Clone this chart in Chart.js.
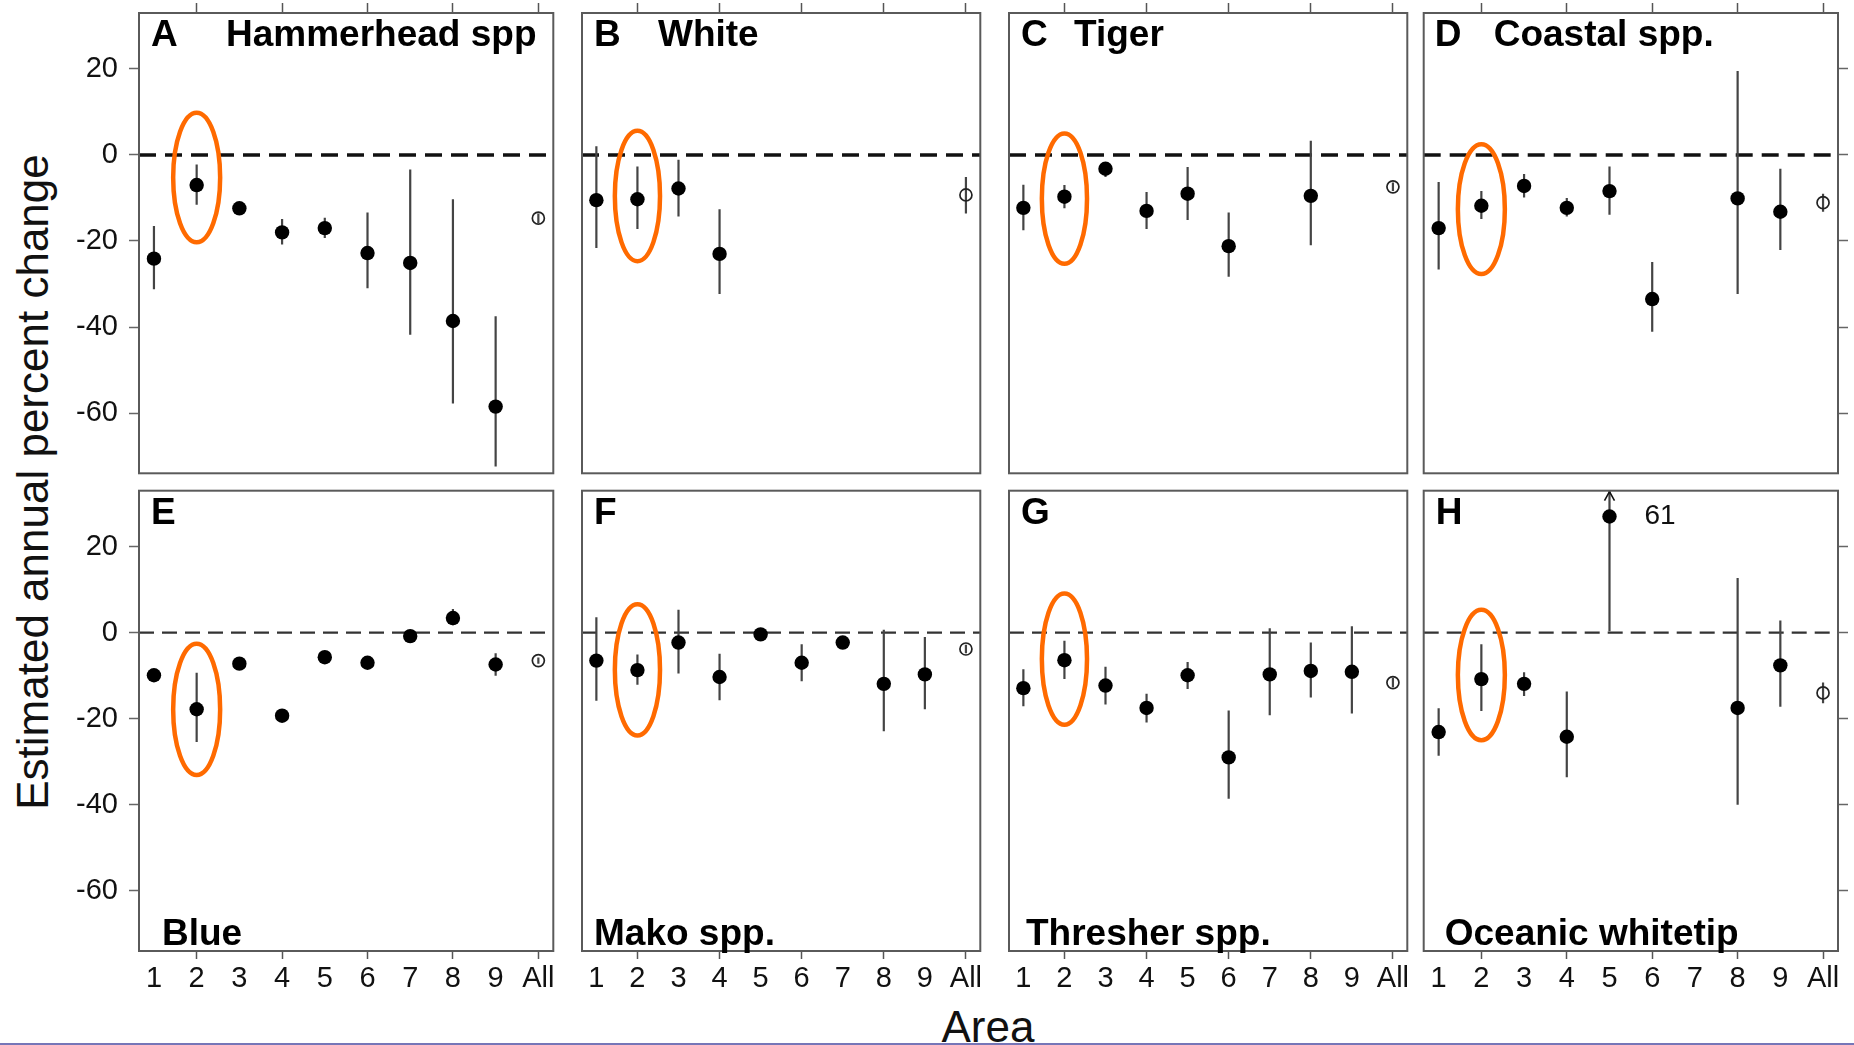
<!DOCTYPE html>
<html>
<head>
<meta charset="utf-8">
<script src="https://cdn.jsdelivr.net/npm/chart.js@4.4.1/dist/chart.umd.min.js"></script>
<style>
html,body{margin:0;padding:0;background:#fff;}
#wrap{position:relative;width:1854px;height:1045px;overflow:hidden;background:#fff;}
#wrap canvas{position:absolute;display:block;}
.lbl{position:absolute;font-family:'Liberation Sans',Arial,Helvetica,sans-serif;color:#111;white-space:nowrap;line-height:1;}
#bottomRule{position:absolute;left:0;top:1043px;width:1854px;height:2px;background:#7676b8;}
</style>
</head>
<body>
<div id="wrap">
  <div class="lbl" id="ytitle" style="left:33px;top:482px;font-size:44px;transform:translate(-50%,-50%) rotate(-90deg);">Estimated annual percent change</div>
  <div class="lbl" id="xtitle" style="left:988px;top:1027px;font-size:44px;transform:translate(-50%,-50%);">Area</div>
  <div id="bottomRule"></div>
</div>
<script>
// ---------------- DATA ----------------
const areaLabels    = ['1','2','3','4','5','6','7','8','9','All'];
const areaPositions = [1, 2, 3, 4, 5, 6, 7, 8, 9, 10];
const yTickValues   = [-60, -40, -20, 0, 20];
const panelLetters  = ['A','B','C','D','E','F','G','H'];
const panelNames    = ['Hammerhead spp','White','Tiger','Coastal spp.','Blue','Mako spp.','Thresher spp.','Oceanic whitetip'];

// estimate, lower bound, upper bound per area (1..9, All)
const hammerheadEst = [-24.1, -7.0, -12.4, -18.0, -17.0, -22.8, -25.1, -38.6, -58.5, -14.7];
const hammerheadLo  = [-31.2, -11.6, -13.9, -20.8, -19.3, -31.0, -41.8, -57.8, -72.4, -15.8];
const hammerheadHi  = [-16.5, -2.2, -11.0, -14.9, -14.6, -13.4, -3.4, -10.3, -37.5, -13.6];

const whiteEst = [-10.5, -10.3, -7.8, -23.0, null, null, null, null, null, -9.3];
const whiteLo  = [-21.6, -17.2, -14.3, -32.3, null, null, null, null, null, -13.6];
const whiteHi  = [2.0, -2.7, -1.1, -12.6, null, null, null, null, null, -5.1];

const tigerEst = [-12.3, -9.7, -3.2, -13.0, -9.0, -21.2, null, -9.5, null, -7.4];
const tigerLo  = [-17.5, -12.4, -5.1, -17.2, -15.1, -28.3, null, -21.0, null, -8.4];
const tigerHi  = [-6.9, -7.0, -2.1, -8.6, -2.8, -13.4, null, 3.3, null, -6.4];

const coastalEst = [-17.0, -11.8, -7.2, -12.3, -8.4, -33.5, null, -10.1, -13.2, -11.1];
const coastalLo  = [-26.6, -14.9, -9.9, -14.3, -13.9, -41.1, null, -32.3, -22.1, -13.2];
const coastalHi  = [-6.3, -8.4, -4.4, -10.0, -2.7, -24.9, null, 19.5, -3.2, -9.0];

const blueEst = [-9.9, -17.8, -7.2, -19.3, -5.7, -7.0, -0.8, 3.4, -7.4, -6.5];
const blueLo  = [-10.8, -25.4, -8.1, -20.2, -6.5, -7.8, -1.6, 1.7, -10.0, -7.2];
const blueHi  = [-9.0, -9.3, -6.3, -18.4, -4.9, -6.2, 0.0, 5.5, -4.8, -5.8];

const makoEst = [-6.5, -8.7, -2.3, -10.3, -0.4, -7.0, -2.3, -11.9, -9.7, -3.8];
const makoLo  = [-15.8, -12.1, -9.5, -15.7, -1.3, -11.3, -3.2, -22.9, -17.8, -4.8];
const makoHi  = [3.6, -5.1, 5.3, -4.9, 0.5, -2.7, -1.4, 0.7, -1.0, -2.8];

const thresherEst = [-12.9, -6.4, -12.3, -17.5, -9.9, -29.0, -9.7, -8.9, -9.1, -11.6];
const thresherLo  = [-17.1, -10.8, -16.7, -20.9, -13.1, -38.6, -19.2, -15.1, -18.8, -12.7];
const thresherHi  = [-8.5, -1.9, -7.9, -14.2, -6.8, -18.1, 1.0, -2.3, 1.5, -10.5];

const oceanicEst = [-23.1, -10.8, -11.9, -24.2, 61, null, null, -17.5, -7.6, -14.0];
const oceanicLo  = [-28.6, -18.2, -14.7, -33.6, 0.3, null, null, -40.0, -17.2, -16.4];
const oceanicHi  = [-17.6, -2.7, -9.2, -13.7, 61, null, null, 12.7, 2.8, -11.6];

// estimates above the axis are drawn at this value, with an arrow and their true value
const offscaleCap = 27;

// highlighted area (orange ellipse) and its vertical extent per panel
const highlightArea = 2;
const ellipseTop    = [9.8, 5.6, 5.0, 2.5, -2.6, 6.6, 9.1, 5.3];
const ellipseBottom = [-20.3, -24.7, -25.3, -27.7, -33.1, -23.9, -21.4, -25.0];

const yMin = -74, yMax = 33;
const xMin = 0.65, xMax = 10.35;

const panelSeries = [
  {est: hammerheadEst, lo: hammerheadLo, hi: hammerheadHi},
  {est: whiteEst, lo: whiteLo, hi: whiteHi},
  {est: tigerEst, lo: tigerLo, hi: tigerHi},
  {est: coastalEst, lo: coastalLo, hi: coastalHi},
  {est: blueEst, lo: blueLo, hi: blueHi},
  {est: makoEst, lo: makoLo, hi: makoHi},
  {est: thresherEst, lo: thresherLo, hi: thresherHi},
  {est: oceanicEst, lo: oceanicLo, hi: oceanicHi}
];

// ---------------- LAYOUT / STYLE ----------------
const colLeft = [139, 566, 993, 1420];
const rowTop  = [13, 487];
const panelW = 418, panelH = 464;
const letterDx = [12, 12, 12, 11, 12, 12, 12, 12];
const nameDx   = [87, 76, 65, 70, 23, 12, 17, 21];
const FONT = "'Liberation Sans', Arial, Helvetica, sans-serif";
const tickFont = {family: FONT, size: 29};
const orange = '#ff6a00';

function zeroPadding(sc) {
  sc.paddingTop = 0; sc.paddingBottom = 0; sc.paddingLeft = 0; sc.paddingRight = 0;
}

const decorPlugin = {
  id: 'panelDecor',
  beforeDatasetsDraw(chart) {
    const k = chart.options.plugins.panelDecor.index;
    const row = Math.floor(k / 4);
    const s = panelSeries[k];
    const {ctx, chartArea: a} = chart;
    const xs = chart.scales.x, ys = chart.scales.y;
    ctx.save();
    ctx.beginPath(); ctx.rect(a.left, a.top, a.right - a.left, a.bottom - a.top); ctx.clip();
    // zero reference line
    const y0 = ys.getPixelForValue(0);
    ctx.setLineDash(row === 0 ? [17, 9] : [15, 8]);
    ctx.lineWidth = row === 0 ? 3.5 : 2.2;
    ctx.strokeStyle = row === 0 ? '#111' : '#333';
    ctx.beginPath(); ctx.moveTo(a.left, y0); ctx.lineTo(a.right, y0); ctx.stroke();
    ctx.setLineDash([]);
    // interval lines
    ctx.strokeStyle = '#444';
    ctx.lineWidth = 2.2;
    s.est.forEach((e, i) => {
      if (e === null) return;
      const px = xs.getPixelForValue(areaPositions[i]);
      const pl = ys.getPixelForValue(Math.max(s.lo[i], yMin));
      const ph = ys.getPixelForValue(Math.min(s.hi[i], yMax));
      ctx.beginPath(); ctx.moveTo(px, pl); ctx.lineTo(px, ph); ctx.stroke();
      if (s.hi[i] > yMax) {
        ctx.lineWidth = 1.6;
        ctx.strokeStyle = '#111';
        ctx.beginPath();
        ctx.moveTo(px - 5, a.top + 10); ctx.lineTo(px, a.top + 1); ctx.lineTo(px + 5, a.top + 10);
        ctx.stroke();
        ctx.strokeStyle = '#444'; ctx.lineWidth = 2.2;
      }
    });
    ctx.restore();
  },
  afterDatasetsDraw(chart) {
    const k = chart.options.plugins.panelDecor.index;
    const row = Math.floor(k / 4);
    const s = panelSeries[k];
    const {ctx, chartArea: a} = chart;
    const xs = chart.scales.x, ys = chart.scales.y;
    ctx.save();
    // true values of off-scale estimates
    ctx.fillStyle = '#111';
    ctx.font = '28px ' + FONT;
    ctx.textBaseline = 'middle';
    ctx.textAlign = 'left';
    s.est.forEach((e, i) => {
      if (e !== null && e > offscaleCap) {
        ctx.fillText(String(e), xs.getPixelForValue(areaPositions[i]) + 35, ys.getPixelForValue(offscaleCap));
      }
    });
    // highlight ellipse
    const cx = xs.getPixelForValue(highlightArea);
    const rx = xs.getPixelForValue(highlightArea + 0.55) - cx;
    const yt = ys.getPixelForValue(ellipseTop[k]);
    const yb = ys.getPixelForValue(ellipseBottom[k]);
    ctx.strokeStyle = orange;
    ctx.lineWidth = 4.5;
    ctx.beginPath();
    ctx.ellipse(cx, (yt + yb) / 2, rx, (yb - yt) / 2, 0, 0, Math.PI * 2);
    ctx.stroke();
    // panel border
    ctx.strokeStyle = '#5a5a5a';
    ctx.lineWidth = 2;
    ctx.strokeRect(a.left, a.top, a.right - a.left, a.bottom - a.top);
    // panel letter and species name
    ctx.fillStyle = '#000';
    ctx.font = 'bold 37px ' + FONT;
    ctx.textBaseline = 'alphabetic';
    ctx.fillText(panelLetters[k], a.left + letterDx[k], a.top + 33);
    if (row === 0) {
      ctx.fillText(panelNames[k], a.left + nameDx[k], a.top + 33);
    } else {
      ctx.fillText(panelNames[k], a.left + nameDx[k], a.bottom - 6);
    }
    ctx.restore();
  }
};

const wrap = document.getElementById('wrap');
for (let k = 0; k < 8; k++) {
  const row = Math.floor(k / 4), col = k % 4;
  const left = col === 0 ? 0 : colLeft[col] - 4;
  const right = col === 3 ? 1854 : colLeft[col] + panelW + 4;
  const top = row === 0 ? 0 : rowTop[1] - 4;
  const bottom = row === 0 ? rowTop[0] + panelH + 4 : 1000;
  const cv = document.createElement('canvas');
  cv.width = right - left; cv.height = bottom - top;
  cv.style.left = left + 'px'; cv.style.top = top + 'px';
  cv.style.width = (right - left) + 'px'; cv.style.height = (bottom - top) + 'px';
  wrap.appendChild(cv);

  const s = panelSeries[k];
  const dots = [], allPts = [];
  s.est.forEach((e, i) => {
    if (e === null) return;
    const pt = {x: areaPositions[i], y: Math.min(e, offscaleCap)};
    if (areaLabels[i] === 'All') allPts.push(pt); else dots.push(pt);
  });
  const xAxisHeight = row === 0 ? rowTop[0] : bottom - (rowTop[1] + panelH);

  new Chart(cv, {
    type: 'scatter',
    data: {
      datasets: [
        {data: dots, pointRadius: 7.2, pointHoverRadius: 7.2, backgroundColor: '#000', borderColor: '#000', borderWidth: 0, clip: false},
        {data: allPts, pointRadius: 6, pointHoverRadius: 6, backgroundColor: 'rgba(0,0,0,0)', borderColor: '#222', borderWidth: 1.7, clip: false}
      ]
    },
    options: {
      responsive: false,
      animation: false,
      devicePixelRatio: 1,
      events: [],
      layout: {padding: {left: col === 0 ? 0 : 4, right: col === 3 ? 0 : 4, top: row === 0 ? 0 : 4, bottom: row === 0 ? 4 : 0}},
      plugins: {legend: {display: false}, tooltip: {enabled: false}, panelDecor: {index: k}},
      scales: {
        x: {
          type: 'linear', min: xMin, max: xMax,
          position: row === 0 ? 'top' : 'bottom',
          afterBuildTicks: sc => { sc.ticks = areaPositions.map(v => ({value: v})); },
          afterFit: sc => { sc.height = xAxisHeight; zeroPadding(sc); },
          ticks: {
            display: row === 1, autoSkip: false, maxRotation: 0, minRotation: 0, padding: 3,
            font: tickFont, color: '#111',
            callback: v => areaLabels[areaPositions.indexOf(v)]
          },
          grid: {
            display: true, drawOnChartArea: false, drawTicks: true,
            tickLength: row === 0 ? 10 : 8, tickWidth: 1.5,
            tickColor: c => (c.tick && c.tick.value % 2 === 0) ? '#555' : 'rgba(0,0,0,0)'
          },
          border: {display: false}
        },
        y: {
          type: 'linear', min: yMin, max: yMax,
          display: col === 0 || col === 3,
          position: col === 3 ? 'right' : 'left',
          afterBuildTicks: sc => { sc.ticks = yTickValues.map(v => ({value: v})); },
          afterFit: sc => { sc.width = col === 0 ? colLeft[0] : 16; zeroPadding(sc); },
          ticks: {display: col === 0, padding: 11, font: tickFont, color: '#111', callback: v => String(v)},
          grid: {display: true, drawOnChartArea: false, drawTicks: true, tickLength: 10, tickWidth: 1.5, tickColor: '#666'},
          border: {display: false}
        }
      }
    },
    plugins: [decorPlugin]
  });
}
</script>
</body>
</html>
